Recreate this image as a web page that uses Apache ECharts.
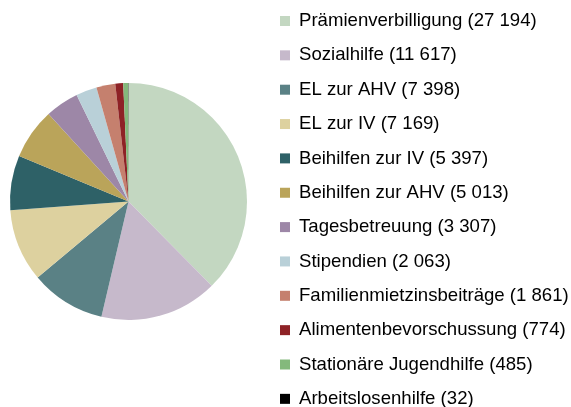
<!DOCTYPE html>
<html>
<head>
<meta charset="utf-8">
<script src="https://cdn.jsdelivr.net/npm/echarts@6/dist/echarts.min.js"></script>
<style>
    html, body { margin: 0; padding: 0; background: #fff; }
    #chart { width: 571px; height: 407px; }
</style>
</head>
<body>
<div id="chart"></div>
<script>
/*数据*/
var categories = ['Prämienverbilligung', 'Sozialhilfe', 'EL zur AHV', 'EL zur IV', 'Beihilfen zur IV',
    'Beihilfen zur AHV', 'Tagesbetreuung', 'Stipendien', 'Familienmietzinsbeiträge',
    'Alimentenbevorschussung', 'Stationäre Jugendhilfe', 'Arbeitslosenhilfe'];
var values = [27194, 11617, 7398, 7169, 5397, 5013, 3307, 2063, 1861, 774, 485, 32];
var colors = ['#c3d7c1', '#c6b9cb', '#5a8185', '#ddd19f', '#2e6167', '#baa45a',
    '#9d87a7', '#b9d0d8', '#c5806e', '#8e2226', '#84b97c', '#000000'];

// 千位用空格分隔
function fmt(n) {
    return String(n).replace(/\B(?=(\d{3})+(?!\d))/g, ' ');
}

var myChart = echarts.init(document.getElementById('chart'));
var pieData = [];
for (let i = 0; i < categories.length; i++) {
    pieData.push({ name: categories[i], value: values[i] });
}

var option = {
    color: colors,
    animation: false,
    legend: {
        orient: 'vertical',
        left: 280,
        top: 11,
        height: 400,
        padding: 0,
        itemWidth: 10,
        itemHeight: 10,
        itemGap: 14.35,
        icon: 'rect',
        textStyle: {
            fontFamily: 'Liberation Sans, Arial, sans-serif',
            fontSize: 18.6,
            lineHeight: 20,
            padding: [0, 0, 0, 4],
            color: '#000'
        },
        formatter: function (name) {
            let i = categories.indexOf(name);
            return name + ' (' + fmt(values[i]) + ')';
        }
    },
    series: [{
        type: 'pie',
        center: [128.5, 201.5],
        radius: 118.5,
        startAngle: 90,
        clockwise: true,
        label: { show: false },
        labelLine: { show: false },
        itemStyle: { borderWidth: 0 },
        emphasis: { disabled: true },
        data: pieData
    }]
};
myChart.setOption(option);
</script>
</body>
</html>
